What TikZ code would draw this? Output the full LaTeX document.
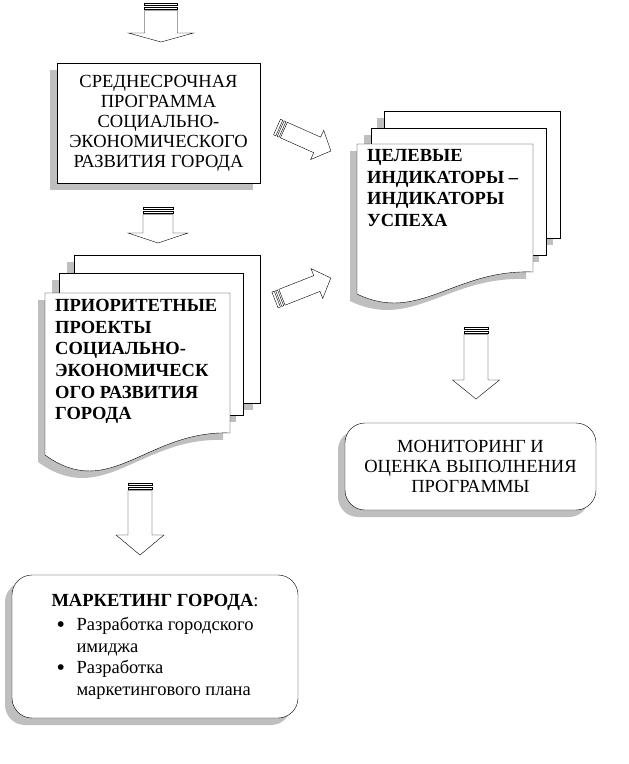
\documentclass[tikz,border=0pt]{standalone}
\usepackage{fontspec}
\setmainfont{Liberation Serif}
\usetikzlibrary{positioning, shadows}

% striped block arrow: tail, angle, length, shaft half width, head half width, head length
\newcommand{\stripearrow}[6]{%
  \begin{scope}[shift={#1}, rotate=#2]
    \draw[fill=white] (0,-#4) rectangle (2.5,#4);
    \draw[fill=white] (4,-#4) rectangle (6,#4);
    \draw[fill=white] (7.5,-#4) -- ({#3-#6},-#4) -- ({#3-#6},-#5) -- (#3,0)
      -- ({#3-#6},#5) -- ({#3-#6},#4) -- (7.5,#4) -- cycle;
  \end{scope}}

\newcommand{\bigbullet}{\raisebox{-0.25ex}{\scalebox{1.3}{\textbullet}}}

\tikzset{
  shade box/.style={drop shadow={shadow xshift=-7pt, shadow yshift=-7pt, fill=gray!50, opacity=1}},
  plain box/.style={draw, fill=white, shade box, inner sep=0pt},
  page/.style={draw, fill=white, shade box},
  boxtext/.style={font=\fontsize{18.5}{20}\selectfont, align=center},
  pagetext/.style={font=\fontsize{18.5}{21.7}\selectfont\bfseries, align=left, inner sep=0pt, anchor=north west},
}

\begin{document}
\begin{tikzpicture}[x=1pt, y=-1pt]
\useasboundingbox (0,0) rectangle (629,764);

% arrow tails
\coordinate (atop)  at (161,3);
\coordinate (amid)  at (158,207);
\coordinate (aup)   at (277,127);
\coordinate (alow)  at (275,300);
\coordinate (amon)  at (476,327);
\coordinate (amkt)  at (140,483);

% medium term programme
\node[plain box, boxtext, minimum width=203pt, minimum height=120pt] (prog) at (158.5,123)
  {СРЕДНЕСРОЧНАЯ\\ПРОГРАММА\\СОЦИАЛЬНО-\\ЭКОНОМИЧЕСКОГО\\РАЗВИТИЯ ГОРОДА};

% priority projects: stack of pages
\draw[page] (74,255) rectangle (260,403);
\draw[page] (59,273) rectangle (243,415);
\draw[page] (45,293) -- (230,293) -- (230,433) .. controls (147,430) and (110,502) .. (45,455) -- cycle;
\node[pagetext] (prio) at (55,299)
  {ПРИОРИТЕТНЫЕ\\ПРОЕКТЫ\\СОЦИАЛЬНО-\\ЭКОНОМИЧЕСК\\ОГО РАЗВИТИЯ\\ГОРОДА};

% target indicators: stack of pages
\draw[page] (384,111) rectangle (560,238);
\draw[page] (371,128) rectangle (546,255);
\draw[page] (357,144) -- (533,144) -- (533,272) .. controls (454,269) and (419,324) .. (357,294) -- cycle;
\node[pagetext] (ind) at (367,149)
  {ЦЕЛЕВЫЕ\\ИНДИКАТОРЫ –\\ИНДИКАТОРЫ\\УСПЕХА};

% monitoring
\node[plain box, rounded corners=20pt, boxtext, minimum width=251pt, minimum height=87pt] (mon) at (470.5,466.5)
  {МОНИТОРИНГ И\\ОЦЕНКА ВЫПОЛНЕНИЯ\\ПРОГРАММЫ};

% city marketing
\node[plain box, rounded corners=20pt, font=\fontsize{18.5}{21.5}\selectfont, align=left,
      minimum width=286pt, minimum height=143pt] (mkt) at (155,646.5)
  {\textbf{МАРКЕТИНГ ГОРОДА}:\\[3pt]
   \hspace*{5pt}\makebox[20pt][l]{\bigbullet}Разработка городского\\
   \hspace*{25pt}имиджа\\
   \hspace*{5pt}\makebox[20pt][l]{\bigbullet}Разработка\\
   \hspace*{25pt}маркетингового плана};

% block arrows
\stripearrow{(atop)}{-90}{39}{16.5}{32.5}{9}
\stripearrow{(amid)}{-90}{36}{15}{30}{10}
\stripearrow{(aup)}{-24}{59}{8.5}{16}{15}
\stripearrow{(alow)}{21.5}{60}{8.5}{16}{15}
\stripearrow{(amon)}{-90}{72}{12}{23.5}{19}
\stripearrow{(amkt)}{-90}{72}{12}{24}{20}

\end{tikzpicture}
\end{document}
